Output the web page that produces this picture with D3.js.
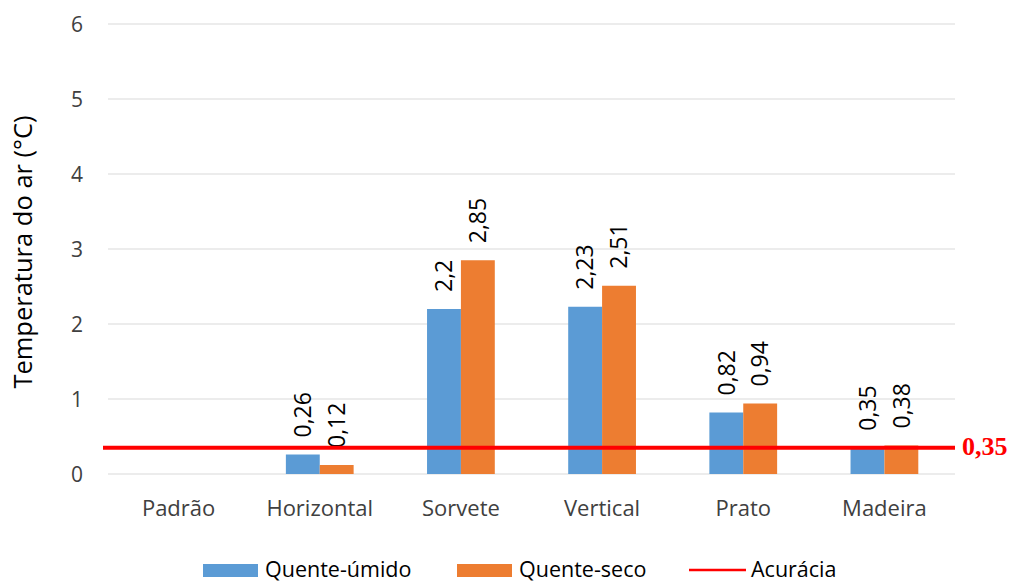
<!DOCTYPE html>
<html lang="pt">
<head>
<meta charset="UTF-8">
<title>Temperatura do ar</title>
<script src="https://cdn.jsdelivr.net/npm/d3@7"></script>
<style>
  body { margin: 0; background: #fff; }
  text { font-family: 'Open Sans', 'Noto Sans', sans-serif; fill: #404040; }
</style>
</head>
<body>
<div id="grafica"></div>
<script>
// dados
categorias = ['Padrão', 'Horizontal', 'Sorvete', 'Vertical', 'Prato', 'Madeira']
quenteUmido = [0, 0.26, 2.2, 2.23, 0.82, 0.35]
quenteSeco = [0, 0.12, 2.85, 2.51, 0.94, 0.38]
rotulosUmido = ['', '0,26', '2,2', '2,23', '0,82', '0,35']
rotulosSeco = ['', '0,12', '2,85', '2,51', '0,94', '0,38']
acuracia = 0.35
rotuloAcuracia = '0,35'
yTicks = [0, 1, 2, 3, 4, 5, 6]
series = ['Quente-úmido', 'Quente-seco']

ancho_total = 1010
alto_total = 584
margin = {top: 24, right: 55, bottom: 110, left: 108}
ancho = ancho_total - margin.left - margin.right
alto = alto_total - margin.top - margin.bottom

svg = d3.select('#grafica').append('svg')
    .attr('width', ancho_total)
    .attr('height', alto_total)

g = svg.append('g')
    .attr('transform', 'translate(' + margin.left + ',' + margin.top + ')')

x = d3.scaleBand().domain(categorias).range([0, ancho]).paddingInner(0.52).paddingOuter(0.26)
xs = d3.scaleBand().domain(series).range([0, x.bandwidth()])
y = d3.scaleLinear().domain([0, 6]).range([alto, 0])
c = d3.scaleOrdinal().domain(series).range(['#5b9bd5', '#ed7d31'])

// grade
g.append('g').selectAll('line').data(yTicks).join('line')
    .attr('x1', 0).attr('x2', ancho)
    .attr('y1', d => y(d)).attr('y2', d => y(d))
    .attr('stroke', '#d9d9d9')
    .attr('stroke-width', 1)

// eixo y
g.append('g').selectAll('text').data(yTicks).join('text')
    .attr('x', -25).attr('y', d => y(d))
    .attr('dy', '0.36em')
    .attr('text-anchor', 'end')
    .style('font-size', '21px')
    .text(d => d)

// eixo x
g.append('g').selectAll('text').data(categorias).join('text')
    .attr('x', d => x(d) + x.bandwidth() / 2)
    .attr('y', alto + 42)
    .attr('text-anchor', 'middle')
    .style('font-size', '22px')
    .text(d => d)

// titulo y
svg.append('text')
    .attr('transform', 'translate(32,' + 252 + ') rotate(-90)')
    .attr('text-anchor', 'middle')
    .style('font-size', '25.5px')
    .style('fill', '#000')
    .text('Temperatura do ar (°C)')

dados = categorias.map((cat, i) => ({
    cat: cat,
    vals: [
        {s: series[0], v: quenteUmido[i], r: rotulosUmido[i]},
        {s: series[1], v: quenteSeco[i], r: rotulosSeco[i]}
    ]
}))

grupos = g.append('g').selectAll('g').data(dados).join('g')
    .attr('transform', d => 'translate(' + x(d.cat) + ',0)')

grupos.selectAll('rect').data(d => d.vals).join('rect')
    .attr('x', d => xs(d.s))
    .attr('width', xs.bandwidth())
    .attr('y', d => y(d.v))
    .attr('height', d => alto - y(d.v))
    .attr('fill', d => c(d.s))

grupos.selectAll('text').data(d => d.vals.filter(v => v.r !== '')).join('text')
    .attr('transform', d => 'translate(' + (xs(d.s) + xs.bandwidth() / 2) + ',' + (y(d.v) - 17) + ') rotate(-90)')
    .attr('dy', '0.36em')
    .style('font-size', '23px')
    .style('fill', '#000')
    .text(d => d.r)

// linha de acuracia
g.append('line')
    .attr('x1', -5).attr('x2', ancho)
    .attr('y1', y(acuracia)).attr('y2', y(acuracia))
    .attr('stroke', '#ff0000')
    .attr('stroke-width', 4)

g.append('text')
    .attr('x', ancho + 7).attr('y', y(acuracia) - 2)
    .attr('dy', '0.35em')
    .style('font-family', "'Liberation Serif', 'DejaVu Serif', serif")
    .style('font-weight', 'bold')
    .style('font-size', '26px')
    .style('fill', '#ff0000')
    .text(rotuloAcuracia)

// legenda
leg = svg.append('g').attr('transform', 'translate(0,570)')
legItems = [
    {nome: series[0], tipo: 'rect', cor: c(series[0]), x: 203},
    {nome: series[1], tipo: 'rect', cor: c(series[1]), x: 457},
    {nome: 'Acurácia', tipo: 'line', cor: '#ff0000', x: 689}
]
legItems.forEach(d => {
    if (d.tipo === 'rect') {
        leg.append('rect').attr('x', d.x).attr('y', -6).attr('width', 55).attr('height', 13).attr('fill', d.cor)
    } else {
        leg.append('line').attr('x1', d.x).attr('x2', d.x + 57).attr('y1', 0).attr('y2', 0)
            .attr('stroke', d.cor).attr('stroke-width', 2.5)
    }
    leg.append('text').attr('x', d.x + 62).attr('y', 0).attr('dy', '0.33em')
        .style('font-size', '21.5px').style('fill', '#000').text(d.nome)
})
</script>
</body>
</html>
